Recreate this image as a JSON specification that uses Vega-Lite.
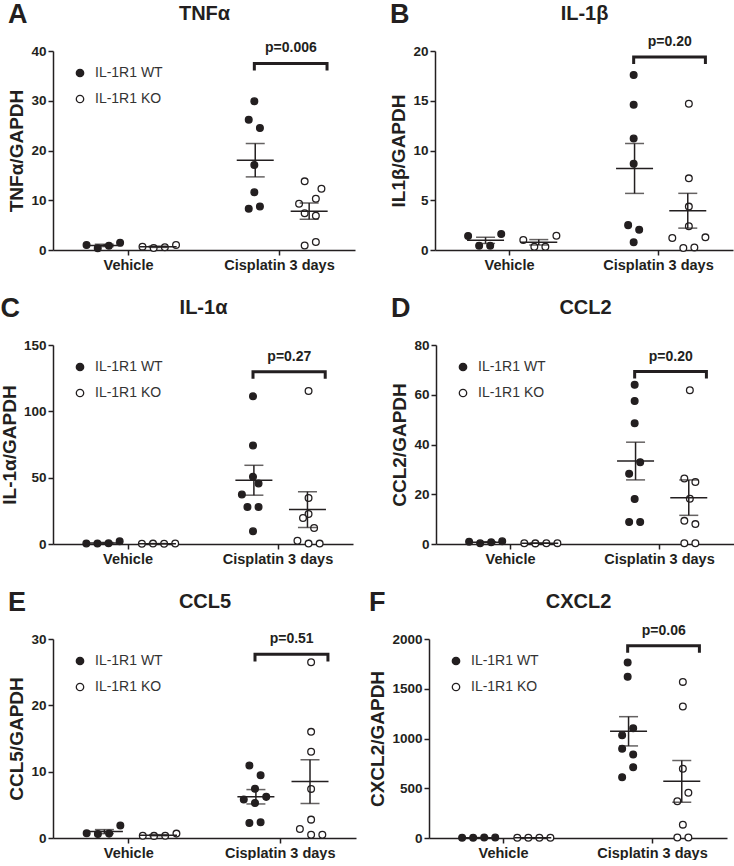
{
"$schema": "https://vega.github.io/schema/vega-lite/v6.json",
"padding": {"left": 0, "top": 1, "right": 0, "bottom": 0},
"config": {
 "font": "Liberation Sans",
 "view": {"stroke": null},
 "axis": {"labelFontSize": 13.5, "labelFontWeight": "bold", "labelColor": "#231f20", "titleFontSize": 19, "titleFontWeight": "bold", "titleColor": "#231f20", "domainColor": "#231f20", "domainWidth": 1.5, "tickColor": "#231f20", "tickWidth": 1.5, "tickSize": 5, "grid": false, "labelPadding": 2},
 "axisX": {"labelFontSize": 14.5, "labelPadding": 3},
 "axisY": {"titlePadding": 4},
 "title": {"fontSize": 27, "fontWeight": "bold", "anchor": "start", "frame": "bounds", "offset": -26, "color": "#231f20"}
},
"datasets": {
 "pts": [
  {"p":"A","c":"Vehicle","g":"IL-1R1 WT","s":"W-3","v":1.0},
  {"p":"A","c":"Vehicle","g":"IL-1R1 WT","s":"W-1","v":0.34},
  {"p":"A","c":"Vehicle","g":"IL-1R1 WT","s":"W1","v":0.87},
  {"p":"A","c":"Vehicle","g":"IL-1R1 WT","s":"W3","v":1.48},
  {"p":"A","c":"Vehicle","g":"IL-1R1 KO","s":"K-3","v":0.67},
  {"p":"A","c":"Vehicle","g":"IL-1R1 KO","s":"K-1","v":0.4},
  {"p":"A","c":"Vehicle","g":"IL-1R1 KO","s":"K1","v":0.54},
  {"p":"A","c":"Vehicle","g":"IL-1R1 KO","s":"K3","v":1.0},
  {"p":"A","c":"Cisplatin 3 days","g":"IL-1R1 WT","s":"W0","v":29.9},
  {"p":"A","c":"Cisplatin 3 days","g":"IL-1R1 WT","s":"W-1","v":26.2},
  {"p":"A","c":"Cisplatin 3 days","g":"IL-1R1 WT","s":"W1","v":24.5},
  {"p":"A","c":"Cisplatin 3 days","g":"IL-1R1 WT","s":"W0","v":17.1},
  {"p":"A","c":"Cisplatin 3 days","g":"IL-1R1 WT","s":"W0","v":11.6},
  {"p":"A","c":"Cisplatin 3 days","g":"IL-1R1 WT","s":"W-1","v":8.3},
  {"p":"A","c":"Cisplatin 3 days","g":"IL-1R1 WT","s":"W1","v":8.75},
  {"p":"A","c":"Cisplatin 3 days","g":"IL-1R1 KO","s":"K-1","v":13.8},
  {"p":"A","c":"Cisplatin 3 days","g":"IL-1R1 KO","s":"K2","v":12.3},
  {"p":"A","c":"Cisplatin 3 days","g":"IL-1R1 KO","s":"K1","v":10.3},
  {"p":"A","c":"Cisplatin 3 days","g":"IL-1R1 KO","s":"K-2","v":9.3},
  {"p":"A","c":"Cisplatin 3 days","g":"IL-1R1 KO","s":"K-1","v":7.4},
  {"p":"A","c":"Cisplatin 3 days","g":"IL-1R1 KO","s":"K1","v":6.9},
  {"p":"A","c":"Cisplatin 3 days","g":"IL-1R1 KO","s":"K-1","v":0.9},
  {"p":"A","c":"Cisplatin 3 days","g":"IL-1R1 KO","s":"K1","v":1.6},

  {"p":"B","c":"Vehicle","g":"IL-1R1 WT","s":"W-3","v":1.41},
  {"p":"B","c":"Vehicle","g":"IL-1R1 WT","s":"W-1","v":0.43},
  {"p":"B","c":"Vehicle","g":"IL-1R1 WT","s":"W1","v":0.43},
  {"p":"B","c":"Vehicle","g":"IL-1R1 WT","s":"W3","v":1.6},
  {"p":"B","c":"Vehicle","g":"IL-1R1 KO","s":"K-3","v":1.0},
  {"p":"B","c":"Vehicle","g":"IL-1R1 KO","s":"K-1","v":0.33},
  {"p":"B","c":"Vehicle","g":"IL-1R1 KO","s":"K1","v":0.33},
  {"p":"B","c":"Vehicle","g":"IL-1R1 KO","s":"K3","v":1.44},
  {"p":"B","c":"Cisplatin 3 days","g":"IL-1R1 WT","s":"W0","v":17.6},
  {"p":"B","c":"Cisplatin 3 days","g":"IL-1R1 WT","s":"W0","v":14.6},
  {"p":"B","c":"Cisplatin 3 days","g":"IL-1R1 WT","s":"W0","v":11.2},
  {"p":"B","c":"Cisplatin 3 days","g":"IL-1R1 WT","s":"W0","v":8.66},
  {"p":"B","c":"Cisplatin 3 days","g":"IL-1R1 WT","s":"W-1","v":2.5},
  {"p":"B","c":"Cisplatin 3 days","g":"IL-1R1 WT","s":"W1","v":2.04},
  {"p":"B","c":"Cisplatin 3 days","g":"IL-1R1 WT","s":"W0","v":0.77},
  {"p":"B","c":"Cisplatin 3 days","g":"IL-1R1 KO","s":"K0","v":14.7},
  {"p":"B","c":"Cisplatin 3 days","g":"IL-1R1 KO","s":"K0","v":7.2},
  {"p":"B","c":"Cisplatin 3 days","g":"IL-1R1 KO","s":"K0","v":4.36},
  {"p":"B","c":"Cisplatin 3 days","g":"IL-1R1 KO","s":"K0","v":2.38},
  {"p":"B","c":"Cisplatin 3 days","g":"IL-1R1 KO","s":"K-3","v":1.2},
  {"p":"B","c":"Cisplatin 3 days","g":"IL-1R1 KO","s":"K3","v":1.27},
  {"p":"B","c":"Cisplatin 3 days","g":"IL-1R1 KO","s":"K-1","v":0.2},
  {"p":"B","c":"Cisplatin 3 days","g":"IL-1R1 KO","s":"K1","v":0.26},

  {"p":"C","c":"Vehicle","g":"IL-1R1 WT","s":"W-3","v":0.4},
  {"p":"C","c":"Vehicle","g":"IL-1R1 WT","s":"W-1","v":0.3},
  {"p":"C","c":"Vehicle","g":"IL-1R1 WT","s":"W1","v":0.5},
  {"p":"C","c":"Vehicle","g":"IL-1R1 WT","s":"W3","v":2.0},
  {"p":"C","c":"Vehicle","g":"IL-1R1 KO","s":"K-3","v":0.2},
  {"p":"C","c":"Vehicle","g":"IL-1R1 KO","s":"K-1","v":0.3},
  {"p":"C","c":"Vehicle","g":"IL-1R1 KO","s":"K1","v":0.2},
  {"p":"C","c":"Vehicle","g":"IL-1R1 KO","s":"K3","v":0.4},
  {"p":"C","c":"Cisplatin 3 days","g":"IL-1R1 WT","s":"W0","v":111.3},
  {"p":"C","c":"Cisplatin 3 days","g":"IL-1R1 WT","s":"W0","v":74.3},
  {"p":"C","c":"Cisplatin 3 days","g":"IL-1R1 WT","s":"W0","v":50.6},
  {"p":"C","c":"Cisplatin 3 days","g":"IL-1R1 WT","s":"W1","v":45.6},
  {"p":"C","c":"Cisplatin 3 days","g":"IL-1R1 WT","s":"W-2","v":37.3},
  {"p":"C","c":"Cisplatin 3 days","g":"IL-1R1 WT","s":"W-1","v":27.9},
  {"p":"C","c":"Cisplatin 3 days","g":"IL-1R1 WT","s":"W1","v":27.9},
  {"p":"C","c":"Cisplatin 3 days","g":"IL-1R1 WT","s":"W0","v":9.6},
  {"p":"C","c":"Cisplatin 3 days","g":"IL-1R1 KO","s":"K0","v":115.3},
  {"p":"C","c":"Cisplatin 3 days","g":"IL-1R1 KO","s":"K0","v":34.7},
  {"p":"C","c":"Cisplatin 3 days","g":"IL-1R1 KO","s":"K0","v":22.6},
  {"p":"C","c":"Cisplatin 3 days","g":"IL-1R1 KO","s":"K-1","v":19.6},
  {"p":"C","c":"Cisplatin 3 days","g":"IL-1R1 KO","s":"K1","v":12.1},
  {"p":"C","c":"Cisplatin 3 days","g":"IL-1R1 KO","s":"K-2","v":2.5},
  {"p":"C","c":"Cisplatin 3 days","g":"IL-1R1 KO","s":"K0","v":0.3},
  {"p":"C","c":"Cisplatin 3 days","g":"IL-1R1 KO","s":"K2","v":0.3},

  {"p":"D","c":"Vehicle","g":"IL-1R1 WT","s":"W-3","v":0.94},
  {"p":"D","c":"Vehicle","g":"IL-1R1 WT","s":"W-1","v":0.27},
  {"p":"D","c":"Vehicle","g":"IL-1R1 WT","s":"W1","v":0.67},
  {"p":"D","c":"Vehicle","g":"IL-1R1 WT","s":"W3","v":1.08},
  {"p":"D","c":"Vehicle","g":"IL-1R1 KO","s":"K-3","v":0.3},
  {"p":"D","c":"Vehicle","g":"IL-1R1 KO","s":"K-1","v":0.25},
  {"p":"D","c":"Vehicle","g":"IL-1R1 KO","s":"K1","v":0.3},
  {"p":"D","c":"Vehicle","g":"IL-1R1 KO","s":"K3","v":0.35},
  {"p":"D","c":"Cisplatin 3 days","g":"IL-1R1 WT","s":"W0","v":64.0},
  {"p":"D","c":"Cisplatin 3 days","g":"IL-1R1 WT","s":"W0","v":57.5},
  {"p":"D","c":"Cisplatin 3 days","g":"IL-1R1 WT","s":"W0","v":48.5},
  {"p":"D","c":"Cisplatin 3 days","g":"IL-1R1 WT","s":"W1","v":32.9},
  {"p":"D","c":"Cisplatin 3 days","g":"IL-1R1 WT","s":"W-1","v":28.2},
  {"p":"D","c":"Cisplatin 3 days","g":"IL-1R1 WT","s":"W0","v":18.1},
  {"p":"D","c":"Cisplatin 3 days","g":"IL-1R1 WT","s":"W-1","v":8.8},
  {"p":"D","c":"Cisplatin 3 days","g":"IL-1R1 WT","s":"W1","v":8.8},
  {"p":"D","c":"Cisplatin 3 days","g":"IL-1R1 KO","s":"K0","v":61.8},
  {"p":"D","c":"Cisplatin 3 days","g":"IL-1R1 KO","s":"K-1","v":26.3},
  {"p":"D","c":"Cisplatin 3 days","g":"IL-1R1 KO","s":"K1","v":24.9},
  {"p":"D","c":"Cisplatin 3 days","g":"IL-1R1 KO","s":"K0","v":18.2},
  {"p":"D","c":"Cisplatin 3 days","g":"IL-1R1 KO","s":"K-1","v":9.3},
  {"p":"D","c":"Cisplatin 3 days","g":"IL-1R1 KO","s":"K1","v":8.0},
  {"p":"D","c":"Cisplatin 3 days","g":"IL-1R1 KO","s":"K-1","v":0.3},
  {"p":"D","c":"Cisplatin 3 days","g":"IL-1R1 KO","s":"K1","v":0.3},

  {"p":"E","c":"Vehicle","g":"IL-1R1 WT","s":"W-3","v":0.7},
  {"p":"E","c":"Vehicle","g":"IL-1R1 WT","s":"W-1","v":0.62},
  {"p":"E","c":"Vehicle","g":"IL-1R1 WT","s":"W1","v":0.66},
  {"p":"E","c":"Vehicle","g":"IL-1R1 WT","s":"W3","v":1.87},
  {"p":"E","c":"Vehicle","g":"IL-1R1 KO","s":"K-3","v":0.35},
  {"p":"E","c":"Vehicle","g":"IL-1R1 KO","s":"K-1","v":0.32},
  {"p":"E","c":"Vehicle","g":"IL-1R1 KO","s":"K1","v":0.35},
  {"p":"E","c":"Vehicle","g":"IL-1R1 KO","s":"K3","v":0.66},
  {"p":"E","c":"Cisplatin 3 days","g":"IL-1R1 WT","s":"W-1","v":10.94},
  {"p":"E","c":"Cisplatin 3 days","g":"IL-1R1 WT","s":"W1","v":9.47},
  {"p":"E","c":"Cisplatin 3 days","g":"IL-1R1 WT","s":"W0","v":7.41},
  {"p":"E","c":"Cisplatin 3 days","g":"IL-1R1 WT","s":"W2","v":6.2},
  {"p":"E","c":"Cisplatin 3 days","g":"IL-1R1 WT","s":"W-2","v":5.79},
  {"p":"E","c":"Cisplatin 3 days","g":"IL-1R1 WT","s":"W0","v":5.29},
  {"p":"E","c":"Cisplatin 3 days","g":"IL-1R1 WT","s":"W-1","v":2.27},
  {"p":"E","c":"Cisplatin 3 days","g":"IL-1R1 WT","s":"W1","v":2.36},
  {"p":"E","c":"Cisplatin 3 days","g":"IL-1R1 KO","s":"K0","v":26.5},
  {"p":"E","c":"Cisplatin 3 days","g":"IL-1R1 KO","s":"K0","v":16.0},
  {"p":"E","c":"Cisplatin 3 days","g":"IL-1R1 KO","s":"K0","v":13.0},
  {"p":"E","c":"Cisplatin 3 days","g":"IL-1R1 KO","s":"K0","v":7.4},
  {"p":"E","c":"Cisplatin 3 days","g":"IL-1R1 KO","s":"K0","v":2.77},
  {"p":"E","c":"Cisplatin 3 days","g":"IL-1R1 KO","s":"K-2","v":1.36},
  {"p":"E","c":"Cisplatin 3 days","g":"IL-1R1 KO","s":"K0","v":0.5},
  {"p":"E","c":"Cisplatin 3 days","g":"IL-1R1 KO","s":"K2","v":0.5},

  {"p":"F","c":"Vehicle","g":"IL-1R1 WT","s":"W-3","v":3},
  {"p":"F","c":"Vehicle","g":"IL-1R1 WT","s":"W-1","v":3},
  {"p":"F","c":"Vehicle","g":"IL-1R1 WT","s":"W1","v":4},
  {"p":"F","c":"Vehicle","g":"IL-1R1 WT","s":"W3","v":5},
  {"p":"F","c":"Vehicle","g":"IL-1R1 KO","s":"K-3","v":2},
  {"p":"F","c":"Vehicle","g":"IL-1R1 KO","s":"K-1","v":2},
  {"p":"F","c":"Vehicle","g":"IL-1R1 KO","s":"K1","v":3},
  {"p":"F","c":"Vehicle","g":"IL-1R1 KO","s":"K3","v":2},
  {"p":"F","c":"Cisplatin 3 days","g":"IL-1R1 WT","s":"W0","v":1765},
  {"p":"F","c":"Cisplatin 3 days","g":"IL-1R1 WT","s":"W0","v":1620},
  {"p":"F","c":"Cisplatin 3 days","g":"IL-1R1 WT","s":"W1","v":1102},
  {"p":"F","c":"Cisplatin 3 days","g":"IL-1R1 WT","s":"W-1","v":1032},
  {"p":"F","c":"Cisplatin 3 days","g":"IL-1R1 WT","s":"W-1","v":897},
  {"p":"F","c":"Cisplatin 3 days","g":"IL-1R1 WT","s":"W1","v":840},
  {"p":"F","c":"Cisplatin 3 days","g":"IL-1R1 WT","s":"W1","v":712},
  {"p":"F","c":"Cisplatin 3 days","g":"IL-1R1 WT","s":"W-1","v":611},
  {"p":"F","c":"Cisplatin 3 days","g":"IL-1R1 KO","s":"K0","v":1569},
  {"p":"F","c":"Cisplatin 3 days","g":"IL-1R1 KO","s":"K0","v":1321},
  {"p":"F","c":"Cisplatin 3 days","g":"IL-1R1 KO","s":"K0","v":696},
  {"p":"F","c":"Cisplatin 3 days","g":"IL-1R1 KO","s":"K1","v":454},
  {"p":"F","c":"Cisplatin 3 days","g":"IL-1R1 KO","s":"K-1","v":369},
  {"p":"F","c":"Cisplatin 3 days","g":"IL-1R1 KO","s":"K0","v":134},
  {"p":"F","c":"Cisplatin 3 days","g":"IL-1R1 KO","s":"K-1","v":5},
  {"p":"F","c":"Cisplatin 3 days","g":"IL-1R1 KO","s":"K1","v":5}
 ],
 "br": [
  {"p":"A","c":"Cisplatin 3 days","s":"W0","v":36.1,"k":1},{"p":"A","c":"Cisplatin 3 days","s":"W0","v":37.5,"k":2},{"p":"A","c":"Cisplatin 3 days","s":"K3","v":37.5,"k":3},{"p":"A","c":"Cisplatin 3 days","s":"K3","v":36.1,"k":4},
  {"p":"B","c":"Cisplatin 3 days","s":"W0","v":18.7,"k":1},{"p":"B","c":"Cisplatin 3 days","s":"W0","v":19.4,"k":2},{"p":"B","c":"Cisplatin 3 days","s":"K3","v":19.4,"k":3},{"p":"B","c":"Cisplatin 3 days","s":"K3","v":18.7,"k":4},
  {"p":"C","c":"Cisplatin 3 days","s":"W0","v":124.6,"k":1},{"p":"C","c":"Cisplatin 3 days","s":"W0","v":129.9,"k":2},{"p":"C","c":"Cisplatin 3 days","s":"K3","v":129.9,"k":3},{"p":"C","c":"Cisplatin 3 days","s":"K3","v":124.6,"k":4},
  {"p":"D","c":"Cisplatin 3 days","s":"W0","v":66.5,"k":1},{"p":"D","c":"Cisplatin 3 days","s":"W0","v":69.3,"k":2},{"p":"D","c":"Cisplatin 3 days","s":"K3","v":69.3,"k":3},{"p":"D","c":"Cisplatin 3 days","s":"K3","v":66.5,"k":4},
  {"p":"E","c":"Cisplatin 3 days","s":"W0","v":26.6,"k":1},{"p":"E","c":"Cisplatin 3 days","s":"W0","v":27.7,"k":2},{"p":"E","c":"Cisplatin 3 days","s":"K3","v":27.7,"k":3},{"p":"E","c":"Cisplatin 3 days","s":"K3","v":26.6,"k":4},
  {"p":"F","c":"Cisplatin 3 days","s":"W0","v":1862,"k":1},{"p":"F","c":"Cisplatin 3 days","s":"W0","v":1932,"k":2},{"p":"F","c":"Cisplatin 3 days","s":"K3","v":1932,"k":3},{"p":"F","c":"Cisplatin 3 days","s":"K3","v":1862,"k":4}
 ],
 "pv": [
  {"p":"A","c":"Cisplatin 3 days","s":"s15","v":37.5,"t":"p=0.006"},
  {"p":"B","c":"Cisplatin 3 days","s":"s15","v":19.4,"t":"p=0.20"},
  {"p":"C","c":"Cisplatin 3 days","s":"s15","v":129.9,"t":"p=0.27"},
  {"p":"D","c":"Cisplatin 3 days","s":"s15","v":69.3,"t":"p=0.20"},
  {"p":"E","c":"Cisplatin 3 days","s":"s15","v":27.7,"t":"p=0.51"},
  {"p":"F","c":"Cisplatin 3 days","s":"s15","v":1932,"t":"p=0.06"}
 ]
},
"spacing": 23,
"resolve": {"scale": {"fill": "independent", "xOffset": "independent"}, "legend": {"fill": "independent"}},
"vconcat": [
 {"hconcat": [
  {"width": 302, "height": 199, "title": {"text": "A"},
   "resolve": {"scale": {"xOffset": "independent"}, "axis": {"x": "independent"}},
   "layer": [
    {"data": {"name": "pts"}, "transform": [{"filter": "datum.p === 'A'"}],
     "mark": {"type": "point", "shape": "circle", "filled": true, "size": 45, "stroke": "#231f20", "strokeWidth": 1.3, "opacity": 1},
     "encoding": {
      "x": {"field": "c", "type": "nominal", "scale": {"domain": ["Vehicle","Cisplatin 3 days"], "paddingInner": 0, "paddingOuter": 0}, "axis": {"orient": "bottom", "title": null, "labelAngle": 0}},
      "xOffset": {"field": "s", "type": "nominal", "scale": {"domain": ["s0","s1","s2","s3","s4","s5","W-3","W-2","W-1","W0","W1","W2","W3","s13","s14","s15","K-3","K-2","K-1","K0","K1","K2","K3","s23","s24","s25","s26","s27"], "paddingInner": 0, "paddingOuter": 0}},
      "y": {"field": "v", "type": "quantitative", "title": "TNFα/GAPDH", "scale": {"domain": [0, 40], "nice": false}, "axis": {"values": [0, 10, 20, 30, 40]}},
      "fill": {"field": "g", "type": "nominal", "scale": {"domain": ["IL-1R1 WT","IL-1R1 KO"], "range": ["#231f20","#ffffff"]}, "legend": {"title": null, "orient": "top-left", "offset": 15, "padding": 0, "symbolOffset": 5, "labelOffset": 8, "rowPadding": 12, "labelFontSize": 14, "labelFontWeight": "normal", "labelColor": "#333333", "symbolSize": 55, "symbolType": "circle", "symbolStrokeColor": "#231f20", "symbolStrokeWidth": 1.3}}
     }},
    {"data": {"name": "pts"}, "transform": [{"filter": "datum.p === 'A'"}],
     "mark": {"type": "tick", "size": 37, "thickness": 1.5, "color": "#231f20"},
     "encoding": {
      "x": {"field": "c", "type": "nominal", "scale": {"domain": ["Vehicle","Cisplatin 3 days"], "paddingInner": 0, "paddingOuter": 0}, "axis": null},
      "xOffset": {"field": "g", "type": "nominal", "scale": {"domain": ["g0","g1","g2","g3","g4","g5","g6","g7","g8","IL-1R1 WT","g10","g11","g12","g13","g14","g15","g16","g17","g18","IL-1R1 KO","g20","g21","g22","g23","g24","g25","g26","g27"], "paddingInner": 0, "paddingOuter": 0}},
      "y": {"aggregate": "mean", "field": "v", "type": "quantitative", "title": "TNFα/GAPDH"}
     }},
    {"data": {"name": "pts"}, "transform": [{"filter": "datum.p === 'A'"}],
     "mark": {"type": "errorbar", "extent": "stderr", "color": "#231f20", "thickness": 1.5, "ticks": {"size": 19}},
     "encoding": {
      "x": {"field": "c", "type": "nominal", "scale": {"domain": ["Vehicle","Cisplatin 3 days"], "paddingInner": 0, "paddingOuter": 0}, "axis": null},
      "xOffset": {"field": "g", "type": "nominal", "scale": {"domain": ["g0","g1","g2","g3","g4","g5","g6","g7","g8","IL-1R1 WT","g10","g11","g12","g13","g14","g15","g16","g17","g18","IL-1R1 KO","g20","g21","g22","g23","g24","g25","g26","g27"], "paddingInner": 0, "paddingOuter": 0}},
      "y": {"field": "v", "type": "quantitative", "title": "TNFα/GAPDH"}
     }},
    {"data": {"name": "br"}, "transform": [{"filter": "datum.p === 'A'"}],
     "mark": {"type": "line", "strokeWidth": 3, "color": "#231f20", "strokeJoin": "miter", "strokeCap": "butt"},
     "encoding": {
      "x": {"field": "c", "type": "nominal", "scale": {"domain": ["Vehicle","Cisplatin 3 days"], "paddingInner": 0, "paddingOuter": 0}, "axis": null},
      "xOffset": {"field": "s", "type": "nominal", "scale": {"domain": ["s0","s1","s2","s3","s4","s5","W-3","W-2","W-1","W0","W1","W2","W3","s13","s14","s15","K-3","K-2","K-1","K0","K1","K2","K3","s23","s24","s25","s26","s27"], "paddingInner": 0, "paddingOuter": 0}},
      "y": {"field": "v", "type": "quantitative", "title": "TNFα/GAPDH"},
      "order": {"field": "k", "type": "quantitative"}
     }},
    {"data": {"name": "pv"}, "transform": [{"filter": "datum.p === 'A'"}],
     "mark": {"type": "text", "fontSize": 14, "fontWeight": "bold", "color": "#231f20", "baseline": "alphabetic", "dy": -11, "dx": 3},
     "encoding": {
      "x": {"field": "c", "type": "nominal", "scale": {"domain": ["Vehicle","Cisplatin 3 days"], "paddingInner": 0, "paddingOuter": 0}, "axis": {"orient": "top", "title": "TNFα", "titleFontSize": 20, "labels": false, "ticks": false, "domain": false, "titlePadding": 28}},
      "xOffset": {"field": "s", "type": "nominal", "scale": {"domain": ["s0","s1","s2","s3","s4","s5","W-3","W-2","W-1","W0","W1","W2","W3","s13","s14","s15","K-3","K-2","K-1","K0","K1","K2","K3","s23","s24","s25","s26","s27"], "paddingInner": 0, "paddingOuter": 0}},
      "y": {"field": "v", "type": "quantitative", "title": "TNFα/GAPDH"},
      "text": {"field": "t"}
     }}
   ]},
  {"width": 298, "height": 199, "title": {"text": "B"},
   "resolve": {"scale": {"xOffset": "independent"}, "axis": {"x": "independent"}},
   "layer": [
    {"data": {"name": "pts"}, "transform": [{"filter": "datum.p === 'B'"}],
     "mark": {"type": "point", "shape": "circle", "filled": true, "size": 45, "stroke": "#231f20", "strokeWidth": 1.3, "opacity": 1},
     "encoding": {
      "x": {"field": "c", "type": "nominal", "scale": {"domain": ["Vehicle","Cisplatin 3 days"], "paddingInner": 0, "paddingOuter": 0}, "axis": {"orient": "bottom", "title": null, "labelAngle": 0}},
      "xOffset": {"field": "s", "type": "nominal", "scale": {"domain": ["s0","s1","s2","s3","s4","s5","W-3","W-2","W-1","W0","W1","W2","W3","s13","s14","s15","K-3","K-2","K-1","K0","K1","K2","K3","s23","s24","s25","s26","s27"], "paddingInner": 0, "paddingOuter": 0}},
      "y": {"field": "v", "type": "quantitative", "title": "IL1β/GAPDH", "scale": {"domain": [0, 20], "nice": false}, "axis": {"values": [0, 5, 10, 15, 20]}},
      "fill": {"field": "g", "type": "nominal", "scale": {"domain": ["IL-1R1 WT","IL-1R1 KO"], "range": ["#231f20","#ffffff"]}, "legend": null}
     }},
    {"data": {"name": "pts"}, "transform": [{"filter": "datum.p === 'B'"}],
     "mark": {"type": "tick", "size": 37, "thickness": 1.5, "color": "#231f20"},
     "encoding": {
      "x": {"field": "c", "type": "nominal", "scale": {"domain": ["Vehicle","Cisplatin 3 days"], "paddingInner": 0, "paddingOuter": 0}, "axis": null},
      "xOffset": {"field": "g", "type": "nominal", "scale": {"domain": ["g0","g1","g2","g3","g4","g5","g6","g7","g8","IL-1R1 WT","g10","g11","g12","g13","g14","g15","g16","g17","g18","IL-1R1 KO","g20","g21","g22","g23","g24","g25","g26","g27"], "paddingInner": 0, "paddingOuter": 0}},
      "y": {"aggregate": "mean", "field": "v", "type": "quantitative", "title": "IL1β/GAPDH"}
     }},
    {"data": {"name": "pts"}, "transform": [{"filter": "datum.p === 'B'"}],
     "mark": {"type": "errorbar", "extent": "stderr", "color": "#231f20", "thickness": 1.5, "ticks": {"size": 19}},
     "encoding": {
      "x": {"field": "c", "type": "nominal", "scale": {"domain": ["Vehicle","Cisplatin 3 days"], "paddingInner": 0, "paddingOuter": 0}, "axis": null},
      "xOffset": {"field": "g", "type": "nominal", "scale": {"domain": ["g0","g1","g2","g3","g4","g5","g6","g7","g8","IL-1R1 WT","g10","g11","g12","g13","g14","g15","g16","g17","g18","IL-1R1 KO","g20","g21","g22","g23","g24","g25","g26","g27"], "paddingInner": 0, "paddingOuter": 0}},
      "y": {"field": "v", "type": "quantitative", "title": "IL1β/GAPDH"}
     }},
    {"data": {"name": "br"}, "transform": [{"filter": "datum.p === 'B'"}],
     "mark": {"type": "line", "strokeWidth": 3, "color": "#231f20", "strokeJoin": "miter", "strokeCap": "butt"},
     "encoding": {
      "x": {"field": "c", "type": "nominal", "scale": {"domain": ["Vehicle","Cisplatin 3 days"], "paddingInner": 0, "paddingOuter": 0}, "axis": null},
      "xOffset": {"field": "s", "type": "nominal", "scale": {"domain": ["s0","s1","s2","s3","s4","s5","W-3","W-2","W-1","W0","W1","W2","W3","s13","s14","s15","K-3","K-2","K-1","K0","K1","K2","K3","s23","s24","s25","s26","s27"], "paddingInner": 0, "paddingOuter": 0}},
      "y": {"field": "v", "type": "quantitative", "title": "IL1β/GAPDH"},
      "order": {"field": "k", "type": "quantitative"}
     }},
    {"data": {"name": "pv"}, "transform": [{"filter": "datum.p === 'B'"}],
     "mark": {"type": "text", "fontSize": 14, "fontWeight": "bold", "color": "#231f20", "baseline": "alphabetic", "dy": -11, "dx": 3},
     "encoding": {
      "x": {"field": "c", "type": "nominal", "scale": {"domain": ["Vehicle","Cisplatin 3 days"], "paddingInner": 0, "paddingOuter": 0}, "axis": {"orient": "top", "title": "IL-1β", "titleFontSize": 20, "labels": false, "ticks": false, "domain": false, "titlePadding": 28}},
      "xOffset": {"field": "s", "type": "nominal", "scale": {"domain": ["s0","s1","s2","s3","s4","s5","W-3","W-2","W-1","W0","W1","W2","W3","s13","s14","s15","K-3","K-2","K-1","K0","K1","K2","K3","s23","s24","s25","s26","s27"], "paddingInner": 0, "paddingOuter": 0}},
      "y": {"field": "v", "type": "quantitative", "title": "IL1β/GAPDH"},
      "text": {"field": "t"}
     }}
   ]}
 ], "spacing": 34, "resolve": {"scale": {"fill": "independent", "xOffset": "independent"}, "legend": {"fill": "independent"}}},
 {"hconcat": [
  {"width": 300, "height": 199, "title": {"text": "C"},
   "resolve": {"scale": {"xOffset": "independent"}, "axis": {"x": "independent"}},
   "layer": [
    {"data": {"name": "pts"}, "transform": [{"filter": "datum.p === 'C'"}],
     "mark": {"type": "point", "shape": "circle", "filled": true, "size": 45, "stroke": "#231f20", "strokeWidth": 1.3, "opacity": 1},
     "encoding": {
      "x": {"field": "c", "type": "nominal", "scale": {"domain": ["Vehicle","Cisplatin 3 days"], "paddingInner": 0, "paddingOuter": 0}, "axis": {"orient": "bottom", "title": null, "labelAngle": 0}},
      "xOffset": {"field": "s", "type": "nominal", "scale": {"domain": ["s0","s1","s2","s3","s4","s5","W-3","W-2","W-1","W0","W1","W2","W3","s13","s14","s15","K-3","K-2","K-1","K0","K1","K2","K3","s23","s24","s25","s26","s27"], "paddingInner": 0, "paddingOuter": 0}},
      "y": {"field": "v", "type": "quantitative", "title": "IL-1α/GAPDH", "scale": {"domain": [0, 150], "nice": false}, "axis": {"values": [0, 50, 100, 150]}},
      "fill": {"field": "g", "type": "nominal", "scale": {"domain": ["IL-1R1 WT","IL-1R1 KO"], "range": ["#231f20","#ffffff"]}, "legend": {"title": null, "orient": "top-left", "offset": 15, "padding": 0, "symbolOffset": 5, "labelOffset": 8, "rowPadding": 12, "labelFontSize": 14, "labelFontWeight": "normal", "labelColor": "#333333", "symbolSize": 55, "symbolType": "circle", "symbolStrokeColor": "#231f20", "symbolStrokeWidth": 1.3}}
     }},
    {"data": {"name": "pts"}, "transform": [{"filter": "datum.p === 'C'"}],
     "mark": {"type": "tick", "size": 37, "thickness": 1.5, "color": "#231f20"},
     "encoding": {
      "x": {"field": "c", "type": "nominal", "scale": {"domain": ["Vehicle","Cisplatin 3 days"], "paddingInner": 0, "paddingOuter": 0}, "axis": null},
      "xOffset": {"field": "g", "type": "nominal", "scale": {"domain": ["g0","g1","g2","g3","g4","g5","g6","g7","g8","IL-1R1 WT","g10","g11","g12","g13","g14","g15","g16","g17","g18","IL-1R1 KO","g20","g21","g22","g23","g24","g25","g26","g27"], "paddingInner": 0, "paddingOuter": 0}},
      "y": {"aggregate": "mean", "field": "v", "type": "quantitative", "title": "IL-1α/GAPDH"}
     }},
    {"data": {"name": "pts"}, "transform": [{"filter": "datum.p === 'C'"}],
     "mark": {"type": "errorbar", "extent": "stderr", "color": "#231f20", "thickness": 1.5, "ticks": {"size": 19}},
     "encoding": {
      "x": {"field": "c", "type": "nominal", "scale": {"domain": ["Vehicle","Cisplatin 3 days"], "paddingInner": 0, "paddingOuter": 0}, "axis": null},
      "xOffset": {"field": "g", "type": "nominal", "scale": {"domain": ["g0","g1","g2","g3","g4","g5","g6","g7","g8","IL-1R1 WT","g10","g11","g12","g13","g14","g15","g16","g17","g18","IL-1R1 KO","g20","g21","g22","g23","g24","g25","g26","g27"], "paddingInner": 0, "paddingOuter": 0}},
      "y": {"field": "v", "type": "quantitative", "title": "IL-1α/GAPDH"}
     }},
    {"data": {"name": "br"}, "transform": [{"filter": "datum.p === 'C'"}],
     "mark": {"type": "line", "strokeWidth": 3, "color": "#231f20", "strokeJoin": "miter", "strokeCap": "butt"},
     "encoding": {
      "x": {"field": "c", "type": "nominal", "scale": {"domain": ["Vehicle","Cisplatin 3 days"], "paddingInner": 0, "paddingOuter": 0}, "axis": null},
      "xOffset": {"field": "s", "type": "nominal", "scale": {"domain": ["s0","s1","s2","s3","s4","s5","W-3","W-2","W-1","W0","W1","W2","W3","s13","s14","s15","K-3","K-2","K-1","K0","K1","K2","K3","s23","s24","s25","s26","s27"], "paddingInner": 0, "paddingOuter": 0}},
      "y": {"field": "v", "type": "quantitative", "title": "IL-1α/GAPDH"},
      "order": {"field": "k", "type": "quantitative"}
     }},
    {"data": {"name": "pv"}, "transform": [{"filter": "datum.p === 'C'"}],
     "mark": {"type": "text", "fontSize": 14, "fontWeight": "bold", "color": "#231f20", "baseline": "alphabetic", "dy": -11, "dx": 3},
     "encoding": {
      "x": {"field": "c", "type": "nominal", "scale": {"domain": ["Vehicle","Cisplatin 3 days"], "paddingInner": 0, "paddingOuter": 0}, "axis": {"orient": "top", "title": "IL-1α", "titleFontSize": 20, "labels": false, "ticks": false, "domain": false, "titlePadding": 28}},
      "xOffset": {"field": "s", "type": "nominal", "scale": {"domain": ["s0","s1","s2","s3","s4","s5","W-3","W-2","W-1","W0","W1","W2","W3","s13","s14","s15","K-3","K-2","K-1","K0","K1","K2","K3","s23","s24","s25","s26","s27"], "paddingInner": 0, "paddingOuter": 0}},
      "y": {"field": "v", "type": "quantitative", "title": "IL-1α/GAPDH"},
      "text": {"field": "t"}
     }}
   ]},
  {"width": 298, "height": 199, "title": {"text": "D"},
   "resolve": {"scale": {"xOffset": "independent"}, "axis": {"x": "independent"}},
   "layer": [
    {"data": {"name": "pts"}, "transform": [{"filter": "datum.p === 'D'"}],
     "mark": {"type": "point", "shape": "circle", "filled": true, "size": 45, "stroke": "#231f20", "strokeWidth": 1.3, "opacity": 1},
     "encoding": {
      "x": {"field": "c", "type": "nominal", "scale": {"domain": ["Vehicle","Cisplatin 3 days"], "paddingInner": 0, "paddingOuter": 0}, "axis": {"orient": "bottom", "title": null, "labelAngle": 0}},
      "xOffset": {"field": "s", "type": "nominal", "scale": {"domain": ["s0","s1","s2","s3","s4","s5","W-3","W-2","W-1","W0","W1","W2","W3","s13","s14","s15","K-3","K-2","K-1","K0","K1","K2","K3","s23","s24","s25","s26","s27"], "paddingInner": 0, "paddingOuter": 0}},
      "y": {"field": "v", "type": "quantitative", "title": "CCL2/GAPDH", "scale": {"domain": [0, 80], "nice": false}, "axis": {"values": [0, 20, 40, 60, 80]}},
      "fill": {"field": "g", "type": "nominal", "scale": {"domain": ["IL-1R1 WT","IL-1R1 KO"], "range": ["#231f20","#ffffff"]}, "legend": {"title": null, "orient": "top-left", "offset": 15, "padding": 0, "symbolOffset": 5, "labelOffset": 8, "rowPadding": 12, "labelFontSize": 14, "labelFontWeight": "normal", "labelColor": "#333333", "symbolSize": 55, "symbolType": "circle", "symbolStrokeColor": "#231f20", "symbolStrokeWidth": 1.3}}
     }},
    {"data": {"name": "pts"}, "transform": [{"filter": "datum.p === 'D'"}],
     "mark": {"type": "tick", "size": 37, "thickness": 1.5, "color": "#231f20"},
     "encoding": {
      "x": {"field": "c", "type": "nominal", "scale": {"domain": ["Vehicle","Cisplatin 3 days"], "paddingInner": 0, "paddingOuter": 0}, "axis": null},
      "xOffset": {"field": "g", "type": "nominal", "scale": {"domain": ["g0","g1","g2","g3","g4","g5","g6","g7","g8","IL-1R1 WT","g10","g11","g12","g13","g14","g15","g16","g17","g18","IL-1R1 KO","g20","g21","g22","g23","g24","g25","g26","g27"], "paddingInner": 0, "paddingOuter": 0}},
      "y": {"aggregate": "mean", "field": "v", "type": "quantitative", "title": "CCL2/GAPDH"}
     }},
    {"data": {"name": "pts"}, "transform": [{"filter": "datum.p === 'D'"}],
     "mark": {"type": "errorbar", "extent": "stderr", "color": "#231f20", "thickness": 1.5, "ticks": {"size": 19}},
     "encoding": {
      "x": {"field": "c", "type": "nominal", "scale": {"domain": ["Vehicle","Cisplatin 3 days"], "paddingInner": 0, "paddingOuter": 0}, "axis": null},
      "xOffset": {"field": "g", "type": "nominal", "scale": {"domain": ["g0","g1","g2","g3","g4","g5","g6","g7","g8","IL-1R1 WT","g10","g11","g12","g13","g14","g15","g16","g17","g18","IL-1R1 KO","g20","g21","g22","g23","g24","g25","g26","g27"], "paddingInner": 0, "paddingOuter": 0}},
      "y": {"field": "v", "type": "quantitative", "title": "CCL2/GAPDH"}
     }},
    {"data": {"name": "br"}, "transform": [{"filter": "datum.p === 'D'"}],
     "mark": {"type": "line", "strokeWidth": 3, "color": "#231f20", "strokeJoin": "miter", "strokeCap": "butt"},
     "encoding": {
      "x": {"field": "c", "type": "nominal", "scale": {"domain": ["Vehicle","Cisplatin 3 days"], "paddingInner": 0, "paddingOuter": 0}, "axis": null},
      "xOffset": {"field": "s", "type": "nominal", "scale": {"domain": ["s0","s1","s2","s3","s4","s5","W-3","W-2","W-1","W0","W1","W2","W3","s13","s14","s15","K-3","K-2","K-1","K0","K1","K2","K3","s23","s24","s25","s26","s27"], "paddingInner": 0, "paddingOuter": 0}},
      "y": {"field": "v", "type": "quantitative", "title": "CCL2/GAPDH"},
      "order": {"field": "k", "type": "quantitative"}
     }},
    {"data": {"name": "pv"}, "transform": [{"filter": "datum.p === 'D'"}],
     "mark": {"type": "text", "fontSize": 14, "fontWeight": "bold", "color": "#231f20", "baseline": "alphabetic", "dy": -11, "dx": 3},
     "encoding": {
      "x": {"field": "c", "type": "nominal", "scale": {"domain": ["Vehicle","Cisplatin 3 days"], "paddingInner": 0, "paddingOuter": 0}, "axis": {"orient": "top", "title": "CCL2", "titleFontSize": 20, "labels": false, "ticks": false, "domain": false, "titlePadding": 28}},
      "xOffset": {"field": "s", "type": "nominal", "scale": {"domain": ["s0","s1","s2","s3","s4","s5","W-3","W-2","W-1","W0","W1","W2","W3","s13","s14","s15","K-3","K-2","K-1","K0","K1","K2","K3","s23","s24","s25","s26","s27"], "paddingInner": 0, "paddingOuter": 0}},
      "y": {"field": "v", "type": "quantitative", "title": "CCL2/GAPDH"},
      "text": {"field": "t"}
     }}
   ]}
 ], "spacing": 37, "resolve": {"scale": {"fill": "independent", "xOffset": "independent"}, "legend": {"fill": "independent"}}},
 {"hconcat": [
  {"width": 303, "height": 199, "title": {"text": "E"},
   "resolve": {"scale": {"xOffset": "independent"}, "axis": {"x": "independent"}},
   "layer": [
    {"data": {"name": "pts"}, "transform": [{"filter": "datum.p === 'E'"}],
     "mark": {"type": "point", "shape": "circle", "filled": true, "size": 45, "stroke": "#231f20", "strokeWidth": 1.3, "opacity": 1},
     "encoding": {
      "x": {"field": "c", "type": "nominal", "scale": {"domain": ["Vehicle","Cisplatin 3 days"], "paddingInner": 0, "paddingOuter": 0}, "axis": {"orient": "bottom", "title": null, "labelAngle": 0}},
      "xOffset": {"field": "s", "type": "nominal", "scale": {"domain": ["s0","s1","s2","s3","s4","s5","W-3","W-2","W-1","W0","W1","W2","W3","s13","s14","s15","K-3","K-2","K-1","K0","K1","K2","K3","s23","s24","s25","s26","s27"], "paddingInner": 0, "paddingOuter": 0}},
      "y": {"field": "v", "type": "quantitative", "title": "CCL5/GAPDH", "scale": {"domain": [0, 30], "nice": false}, "axis": {"values": [0, 10, 20, 30]}},
      "fill": {"field": "g", "type": "nominal", "scale": {"domain": ["IL-1R1 WT","IL-1R1 KO"], "range": ["#231f20","#ffffff"]}, "legend": {"title": null, "orient": "top-left", "offset": 15, "padding": 0, "symbolOffset": 5, "labelOffset": 8, "rowPadding": 12, "labelFontSize": 14, "labelFontWeight": "normal", "labelColor": "#333333", "symbolSize": 55, "symbolType": "circle", "symbolStrokeColor": "#231f20", "symbolStrokeWidth": 1.3}}
     }},
    {"data": {"name": "pts"}, "transform": [{"filter": "datum.p === 'E'"}],
     "mark": {"type": "tick", "size": 37, "thickness": 1.5, "color": "#231f20"},
     "encoding": {
      "x": {"field": "c", "type": "nominal", "scale": {"domain": ["Vehicle","Cisplatin 3 days"], "paddingInner": 0, "paddingOuter": 0}, "axis": null},
      "xOffset": {"field": "g", "type": "nominal", "scale": {"domain": ["g0","g1","g2","g3","g4","g5","g6","g7","g8","IL-1R1 WT","g10","g11","g12","g13","g14","g15","g16","g17","g18","IL-1R1 KO","g20","g21","g22","g23","g24","g25","g26","g27"], "paddingInner": 0, "paddingOuter": 0}},
      "y": {"aggregate": "mean", "field": "v", "type": "quantitative", "title": "CCL5/GAPDH"}
     }},
    {"data": {"name": "pts"}, "transform": [{"filter": "datum.p === 'E'"}],
     "mark": {"type": "errorbar", "extent": "stderr", "color": "#231f20", "thickness": 1.5, "ticks": {"size": 19}},
     "encoding": {
      "x": {"field": "c", "type": "nominal", "scale": {"domain": ["Vehicle","Cisplatin 3 days"], "paddingInner": 0, "paddingOuter": 0}, "axis": null},
      "xOffset": {"field": "g", "type": "nominal", "scale": {"domain": ["g0","g1","g2","g3","g4","g5","g6","g7","g8","IL-1R1 WT","g10","g11","g12","g13","g14","g15","g16","g17","g18","IL-1R1 KO","g20","g21","g22","g23","g24","g25","g26","g27"], "paddingInner": 0, "paddingOuter": 0}},
      "y": {"field": "v", "type": "quantitative", "title": "CCL5/GAPDH"}
     }},
    {"data": {"name": "br"}, "transform": [{"filter": "datum.p === 'E'"}],
     "mark": {"type": "line", "strokeWidth": 3, "color": "#231f20", "strokeJoin": "miter", "strokeCap": "butt"},
     "encoding": {
      "x": {"field": "c", "type": "nominal", "scale": {"domain": ["Vehicle","Cisplatin 3 days"], "paddingInner": 0, "paddingOuter": 0}, "axis": null},
      "xOffset": {"field": "s", "type": "nominal", "scale": {"domain": ["s0","s1","s2","s3","s4","s5","W-3","W-2","W-1","W0","W1","W2","W3","s13","s14","s15","K-3","K-2","K-1","K0","K1","K2","K3","s23","s24","s25","s26","s27"], "paddingInner": 0, "paddingOuter": 0}},
      "y": {"field": "v", "type": "quantitative", "title": "CCL5/GAPDH"},
      "order": {"field": "k", "type": "quantitative"}
     }},
    {"data": {"name": "pv"}, "transform": [{"filter": "datum.p === 'E'"}],
     "mark": {"type": "text", "fontSize": 14, "fontWeight": "bold", "color": "#231f20", "baseline": "alphabetic", "dy": -11, "dx": 3},
     "encoding": {
      "x": {"field": "c", "type": "nominal", "scale": {"domain": ["Vehicle","Cisplatin 3 days"], "paddingInner": 0, "paddingOuter": 0}, "axis": {"orient": "top", "title": "CCL5", "titleFontSize": 20, "labels": false, "ticks": false, "domain": false, "titlePadding": 28}},
      "xOffset": {"field": "s", "type": "nominal", "scale": {"domain": ["s0","s1","s2","s3","s4","s5","W-3","W-2","W-1","W0","W1","W2","W3","s13","s14","s15","K-3","K-2","K-1","K0","K1","K2","K3","s23","s24","s25","s26","s27"], "paddingInner": 0, "paddingOuter": 0}},
      "y": {"field": "v", "type": "quantitative", "title": "CCL5/GAPDH"},
      "text": {"field": "t"}
     }}
   ]},
  {"width": 298, "height": 199, "title": {"text": "F"},
   "resolve": {"scale": {"xOffset": "independent"}, "axis": {"x": "independent"}},
   "layer": [
    {"data": {"name": "pts"}, "transform": [{"filter": "datum.p === 'F'"}],
     "mark": {"type": "point", "shape": "circle", "filled": true, "size": 45, "stroke": "#231f20", "strokeWidth": 1.3, "opacity": 1},
     "encoding": {
      "x": {"field": "c", "type": "nominal", "scale": {"domain": ["Vehicle","Cisplatin 3 days"], "paddingInner": 0, "paddingOuter": 0}, "axis": {"orient": "bottom", "title": null, "labelAngle": 0}},
      "xOffset": {"field": "s", "type": "nominal", "scale": {"domain": ["s0","s1","s2","s3","s4","s5","W-3","W-2","W-1","W0","W1","W2","W3","s13","s14","s15","K-3","K-2","K-1","K0","K1","K2","K3","s23","s24","s25","s26","s27"], "paddingInner": 0, "paddingOuter": 0}},
      "y": {"field": "v", "type": "quantitative", "title": "CXCL2/GAPDH", "scale": {"domain": [0, 2000], "nice": false}, "axis": {"values": [0, 500, 1000, 1500, 2000], "format": "d"}},
      "fill": {"field": "g", "type": "nominal", "scale": {"domain": ["IL-1R1 WT","IL-1R1 KO"], "range": ["#231f20","#ffffff"]}, "legend": {"title": null, "orient": "top-left", "offset": 15, "padding": 0, "symbolOffset": 5, "labelOffset": 8, "rowPadding": 12, "labelFontSize": 14, "labelFontWeight": "normal", "labelColor": "#333333", "symbolSize": 55, "symbolType": "circle", "symbolStrokeColor": "#231f20", "symbolStrokeWidth": 1.3}}
     }},
    {"data": {"name": "pts"}, "transform": [{"filter": "datum.p === 'F'"}],
     "mark": {"type": "tick", "size": 37, "thickness": 1.5, "color": "#231f20"},
     "encoding": {
      "x": {"field": "c", "type": "nominal", "scale": {"domain": ["Vehicle","Cisplatin 3 days"], "paddingInner": 0, "paddingOuter": 0}, "axis": null},
      "xOffset": {"field": "g", "type": "nominal", "scale": {"domain": ["g0","g1","g2","g3","g4","g5","g6","g7","g8","IL-1R1 WT","g10","g11","g12","g13","g14","g15","g16","g17","g18","IL-1R1 KO","g20","g21","g22","g23","g24","g25","g26","g27"], "paddingInner": 0, "paddingOuter": 0}},
      "y": {"aggregate": "mean", "field": "v", "type": "quantitative", "title": "CXCL2/GAPDH"}
     }},
    {"data": {"name": "pts"}, "transform": [{"filter": "datum.p === 'F'"}],
     "mark": {"type": "errorbar", "extent": "stderr", "color": "#231f20", "thickness": 1.5, "ticks": {"size": 19}},
     "encoding": {
      "x": {"field": "c", "type": "nominal", "scale": {"domain": ["Vehicle","Cisplatin 3 days"], "paddingInner": 0, "paddingOuter": 0}, "axis": null},
      "xOffset": {"field": "g", "type": "nominal", "scale": {"domain": ["g0","g1","g2","g3","g4","g5","g6","g7","g8","IL-1R1 WT","g10","g11","g12","g13","g14","g15","g16","g17","g18","IL-1R1 KO","g20","g21","g22","g23","g24","g25","g26","g27"], "paddingInner": 0, "paddingOuter": 0}},
      "y": {"field": "v", "type": "quantitative", "title": "CXCL2/GAPDH"}
     }},
    {"data": {"name": "br"}, "transform": [{"filter": "datum.p === 'F'"}],
     "mark": {"type": "line", "strokeWidth": 3, "color": "#231f20", "strokeJoin": "miter", "strokeCap": "butt"},
     "encoding": {
      "x": {"field": "c", "type": "nominal", "scale": {"domain": ["Vehicle","Cisplatin 3 days"], "paddingInner": 0, "paddingOuter": 0}, "axis": null},
      "xOffset": {"field": "s", "type": "nominal", "scale": {"domain": ["s0","s1","s2","s3","s4","s5","W-3","W-2","W-1","W0","W1","W2","W3","s13","s14","s15","K-3","K-2","K-1","K0","K1","K2","K3","s23","s24","s25","s26","s27"], "paddingInner": 0, "paddingOuter": 0}},
      "y": {"field": "v", "type": "quantitative", "title": "CXCL2/GAPDH"},
      "order": {"field": "k", "type": "quantitative"}
     }},
    {"data": {"name": "pv"}, "transform": [{"filter": "datum.p === 'F'"}],
     "mark": {"type": "text", "fontSize": 14, "fontWeight": "bold", "color": "#231f20", "baseline": "alphabetic", "dy": -11, "dx": 3},
     "encoding": {
      "x": {"field": "c", "type": "nominal", "scale": {"domain": ["Vehicle","Cisplatin 3 days"], "paddingInner": 0, "paddingOuter": 0}, "axis": {"orient": "top", "title": "CXCL2", "titleFontSize": 20, "labels": false, "ticks": false, "domain": false, "titlePadding": 28}},
      "xOffset": {"field": "s", "type": "nominal", "scale": {"domain": ["s0","s1","s2","s3","s4","s5","W-3","W-2","W-1","W0","W1","W2","W3","s13","s14","s15","K-3","K-2","K-1","K0","K1","K2","K3","s23","s24","s25","s26","s27"], "paddingInner": 0, "paddingOuter": 0}},
      "y": {"field": "v", "type": "quantitative", "title": "CXCL2/GAPDH"},
      "text": {"field": "t"}
     }}
   ]}
 ], "spacing": 12, "resolve": {"scale": {"fill": "independent", "xOffset": "independent"}, "legend": {"fill": "independent"}}}
]
}
